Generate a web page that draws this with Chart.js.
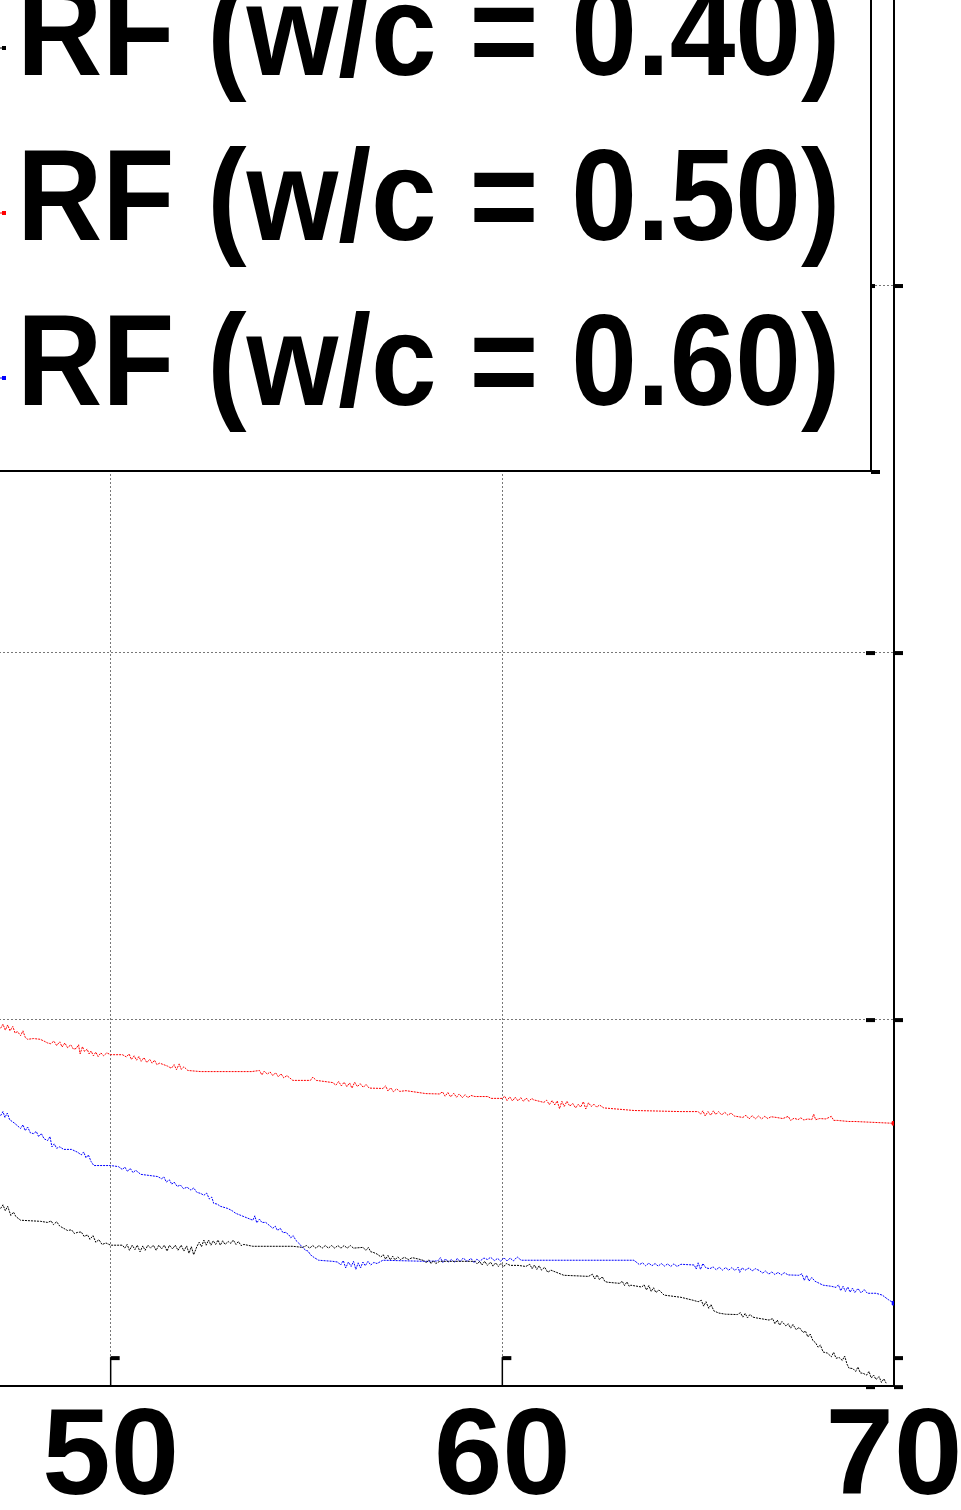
<!DOCTYPE html>
<html>
<head>
<meta charset="utf-8">
<script src="https://cdn.jsdelivr.net/npm/chart.js@4.4.1/dist/chart.umd.min.js"></script>
<style>
    html, body { margin: 0; padding: 0; background: #fff; overflow: hidden; }
    #wrap { position: relative; width: 961px; height: 1510px; overflow: hidden; }
    #chart { position: absolute; left: -387px; top: -92px; }
</style>
</head>
<body>
<div id="wrap"><canvas id="chart" width="1387" height="1629"></canvas></div>
<script>
// series labels
var seriesLabels = ['RF (w/c = 0.40)', 'RF (w/c = 0.50)', 'RF (w/c = 0.60)'];
var seriesColors = ['#000000', '#ff0000', '#0000ff'];

// w/c = 0.40 (black), [x, RF]
var blackSeries = [
    [47.19, .484], [47.25, .494], [47.31, .478], [47.37, .490], [47.45, .465], [47.52, .474], [47.58, .462], [47.70, .452],
    [48.21, .449], [48.39, .446], [48.48, .450], [48.54, .440], [48.62, .448], [48.70, .436], [48.80, .430], [48.90, .424],
    [49.00, .426], [49.07, .416], [49.16, .419], [49.25, .420], [49.32, .408], [49.41, .412], [49.47, .400], [49.55, .410],
    [49.62, .392], [49.70, .399], [49.78, .386], [49.88, .390], [50.00, .384],
    [50.30, .384], [50.36, .376], [50.42, .386], [50.48, .370], [50.55, .384], [50.62, .372], [50.68, .384], [50.75, .366],
    [50.82, .382], [50.88, .370], [50.95, .384], [51.02, .376], [51.09, .384], [51.16, .370], [51.23, .384], [51.30, .374],
    [51.37, .384], [51.44, .368], [51.50, .384], [51.58, .374], [51.65, .384], [51.72, .370], [51.80, .384], [51.87, .368],
    [51.94, .382], [52.00, .362], [52.06, .380], [52.12, .358], [52.20, .380],
    [52.26, .392], [52.32, .380], [52.38, .398], [52.44, .384], [52.50, .398], [52.56, .384], [52.62, .396], [52.68, .386],
    [52.74, .398], [52.80, .384], [52.86, .396], [52.92, .386], [53.00, .394], [53.07, .389], [53.13, .398], [53.20, .386],
    [53.26, .394], [53.33, .383], [53.40, .386], [53.63, .381],
    [54.65, .381], [54.90, .378], [55.00, .383], [55.08, .376], [55.16, .383], [55.24, .376], [55.32, .383], [55.40, .376],
    [55.48, .383], [55.56, .376], [55.64, .383], [55.72, .376], [55.80, .383], [55.88, .376], [55.96, .383], [56.04, .376],
    [56.12, .383], [56.20, .376], [56.44, .378],
    [56.52, .370], [56.58, .378], [56.64, .366], [56.69, .365], [56.80, .360], [56.90, .352], [56.96, .358], [57.02, .346],
    [57.08, .356], [57.14, .344], [57.20, .354], [57.26, .344], [57.33, .352], [57.40, .345], [57.50, .351], [57.60, .345],
    [57.70, .350], [57.87, .346],
    [58.00, .342], [58.06, .336], [58.12, .344], [58.18, .334], [58.24, .342], [58.30, .334], [58.40, .340], [58.56, .340],
    [59.30, .340], [59.36, .333], [59.42, .340], [59.48, .330], [59.55, .340], [59.62, .329], [59.70, .338], [59.76, .327],
    [59.83, .336], [59.90, .326], [59.96, .334], [60.04, .326], [60.10, .334], [60.20, .329], [60.40, .329],
    [60.60, .326], [60.70, .332], [60.76, .320], [60.82, .330], [60.88, .318], [60.94, .328], [61.00, .316], [61.08, .324],
    [61.16, .310], [61.24, .316], [61.57, .302],
    [62.20, .299], [62.30, .305], [62.36, .292], [62.42, .303], [62.48, .290], [62.55, .298], [62.62, .285], [62.69, .283],
    [63.00, .280], [63.06, .286], [63.12, .274], [63.18, .284], [63.24, .272], [63.28, .275], [63.56, .270], [63.62, .276],
    [63.68, .262], [63.74, .274], [63.80, .258], [63.86, .268], [63.92, .255], [64.00, .262], [64.13, .248], [64.56, .242],
    [64.87, .234], [65.00, .230], [65.08, .234], [65.14, .218], [65.20, .230], [65.27, .212], [65.33, .222], [65.40, .205],
    [65.53, .199], [65.70, .196], [66.00, .195], [66.08, .200], [66.14, .188], [66.20, .198], [66.26, .186], [66.32, .195],
    [66.40, .188], [66.48, .186], [66.81, .180], [66.90, .184], [66.96, .170], [67.02, .180], [67.08, .166], [67.14, .176],
    [67.24, .164], [67.30, .170], [67.36, .158], [67.42, .168], [67.50, .154], [67.58, .160], [67.68, .146], [67.74, .150],
    [67.80, .134], [67.86, .142], [67.93, .124], [68.00, .118], [68.06, .106], [68.12, .112], [68.19, .093], [68.30, .090],
    [68.40, .080], [68.46, .092], [68.52, .076], [68.60, .078], [68.68, .070], [68.74, .082], [68.80, .060], [68.85, .049],
    [68.95, .048], [69.02, .040], [69.08, .052], [69.14, .036], [69.21, .035], [69.30, .030], [69.36, .040], [69.42, .022],
    [69.48, .030], [69.54, .018], [69.62, .026], [69.68, .010], [69.74, .020], [69.80, .008]
];

// w/c = 0.50 (red)
var redSeries = [
    [47.19, .975], [47.25, .986], [47.31, .970], [47.37, .984], [47.43, .968], [47.50, .980], [47.56, .962], [47.62, .966],
    [47.70, .955], [47.76, .968], [47.82, .950], [47.88, .945], [48.03, .947], [48.20, .945], [48.30, .940],
    [48.39, .935], [48.47, .933], [48.55, .940], [48.62, .928], [48.70, .938], [48.76, .924], [48.83, .935], [48.90, .922],
    [48.98, .930], [49.05, .918], [49.12, .920], [49.18, .930], [49.22, .905], [49.28, .925], [49.33, .912], [49.40, .918],
    [49.45, .905], [49.50, .913], [49.56, .900], [49.62, .910], [49.68, .898], [49.75, .908], [49.82, .900], [49.90, .908],
    [50.00, .903], [50.30, .903], [50.40, .897], [50.47, .905], [50.53, .890], [50.60, .900], [50.66, .888], [50.72, .898],
    [50.78, .885], [50.85, .895], [50.92, .882], [51.00, .890], [51.06, .880], [51.12, .888], [51.18, .876], [51.25, .880],
    [51.45, .872], [51.55, .866], [51.62, .876], [51.68, .862], [51.75, .878], [51.80, .863], [51.87, .870], [51.97, .860],
    [52.30, .857], [53.07, .857], [53.60, .857], [53.80, .860], [53.86, .848], [53.92, .858], [54.00, .850], [54.07, .856],
    [54.14, .846], [54.21, .854], [54.28, .843], [54.35, .851], [54.42, .840], [54.50, .846], [54.65, .833],
    [55.10, .833], [55.16, .842], [55.25, .833], [55.67, .827],
    [55.75, .820], [55.82, .830], [55.89, .818], [55.96, .828], [56.03, .816], [56.10, .826], [56.16, .812], [56.23, .828],
    [56.30, .816], [56.37, .824], [56.45, .814], [56.52, .822], [56.60, .812],
    [56.95, .811], [57.02, .818], [57.08, .804], [57.15, .813], [57.22, .802], [57.30, .810], [57.38, .803], [57.54, .805],
    [58.05, .797], [58.40, .796], [58.47, .802], [58.54, .790], [58.61, .800], [58.68, .788], [58.76, .798], [58.83, .787],
    [58.90, .796], [58.98, .786], [59.05, .794], [59.12, .786], [59.20, .792], [59.30, .789], [59.63, .789],
    [59.71, .784], [60.00, .784], [60.06, .790], [60.12, .778], [60.19, .788], [60.26, .777], [60.33, .787], [60.40, .777],
    [60.47, .786], [60.54, .776], [60.61, .785], [60.68, .776], [60.75, .784], [60.80, .780],
    [61.06, .773], [61.13, .779], [61.20, .767], [61.27, .778], [61.34, .766], [61.40, .777], [61.46, .756], [61.52, .776],
    [61.58, .762], [61.65, .776], [61.72, .763], [61.80, .770], [61.87, .758], [61.94, .768], [62.00, .760], [62.07, .775],
    [62.13, .755], [62.20, .772], [62.27, .762], [62.34, .768], [62.41, .760], [62.48, .766], [62.59, .758],
    [63.36, .751], [64.56, .748], [65.00, .748], [65.06, .741], [65.12, .750], [65.18, .736], [65.25, .748], [65.32, .738],
    [65.39, .750], [65.45, .740], [65.52, .748], [65.60, .739], [65.68, .746], [65.76, .738], [65.84, .744], [65.92, .736],
    [66.14, .732], [66.22, .738], [66.30, .728], [66.38, .737], [66.46, .728], [66.54, .736], [66.62, .728], [66.70, .735],
    [66.78, .729], [66.86, .734], [67.00, .732], [67.16, .729],
    [67.30, .735], [67.36, .724], [67.45, .730], [67.55, .726], [67.62, .731], [67.70, .725], [67.80, .728], [67.90, .726],
    [67.95, .741], [68.00, .726], [68.10, .729], [68.26, .728], [68.40, .735], [68.46, .724], [68.55, .724], [68.85, .721],
    [69.00, .721], [70.00, .716]
];

// w/c = 0.60 (blue)
var blueSeries = [
    [47.19, .737], [47.25, .748], [47.30, .732], [47.36, .744], [47.42, .726], [47.55, .716], [47.70, .702], [47.76, .712],
    [47.82, .696], [47.88, .706], [47.95, .690], [48.03, .688], [48.10, .694], [48.16, .680], [48.23, .688], [48.30, .674],
    [48.39, .669], [48.45, .680], [48.50, .652], [48.56, .660], [48.62, .648], [48.70, .652], [48.80, .645], [49.00, .645],
    [49.16, .637], [49.25, .630], [49.31, .638], [49.37, .622], [49.43, .630], [49.50, .612], [49.57, .601], [50.00, .601],
    [50.20, .598], [50.30, .590], [50.36, .597], [50.43, .585], [50.50, .593], [50.57, .582], [50.64, .588], [50.77, .577],
    [51.20, .571], [51.30, .565], [51.36, .570], [51.42, .556], [51.50, .562], [51.56, .550], [51.62, .556], [51.70, .544],
    [51.78, .548], [51.86, .538], [51.95, .542], [52.05, .534], [52.12, .540], [52.20, .528], [52.30, .525], [52.38, .520],
    [52.45, .526], [52.52, .510], [52.58, .515], [52.63, .498], [52.72, .496], [52.80, .490], [52.99, .484], [53.10, .478],
    [53.19, .471], [53.63, .452], [53.68, .464], [53.73, .445], [53.80, .455], [53.86, .446], [53.96, .446], [54.14, .430],
    [54.20, .436], [54.26, .424], [54.33, .430], [54.40, .418], [54.47, .419], [54.55, .412], [54.60, .404], [54.66, .410],
    [54.73, .397], [54.80, .390], [54.88, .380], [54.98, .370], [55.04, .368], [55.10, .358], [55.20, .350], [55.31, .343],
    [55.67, .340], [55.80, .338], [55.87, .330], [55.94, .342], [56.00, .322], [56.07, .338], [56.14, .326], [56.20, .340],
    [56.26, .318], [56.32, .336], [56.38, .322], [56.44, .338], [56.50, .328], [56.57, .340], [56.64, .330], [56.72, .337],
    [56.80, .334], [56.95, .343], [58.05, .340], [58.35, .341], [58.42, .350], [58.48, .337], [58.55, .347], [58.62, .338],
    [58.70, .345], [58.78, .337], [58.85, .348], [58.92, .339], [59.00, .349], [59.10, .340], [59.20, .348], [59.28, .336],
    [59.35, .346], [59.42, .340], [59.53, .349], [59.62, .345], [59.70, .351], [59.80, .342], [59.88, .348], [59.96, .340],
    [60.04, .350], [60.12, .341], [60.20, .349], [60.28, .341], [60.38, .352], [60.48, .343], [61.24, .343], [63.36, .343],
    [63.50, .331], [63.58, .336], [63.66, .328], [63.74, .335], [63.82, .328], [63.90, .334], [63.98, .327], [64.06, .334],
    [64.14, .327], [64.22, .333], [64.30, .326], [64.38, .333], [64.46, .326], [64.56, .332], [64.90, .330], [64.95, .319],
    [65.00, .336], [65.06, .318], [65.12, .334], [65.20, .322], [65.30, .320], [65.38, .325], [65.46, .317], [65.54, .324],
    [65.62, .316], [65.70, .323], [65.78, .316], [65.86, .323], [65.94, .315], [66.02, .324], [66.06, .310], [66.12, .322],
    [66.20, .316], [66.30, .322], [66.38, .314], [66.46, .320], [66.56, .315], [66.65, .308], [66.72, .314], [66.80, .305],
    [66.88, .311], [66.96, .304], [67.04, .310], [67.12, .303], [67.20, .309], [67.30, .303], [67.57, .302], [67.65, .306],
    [67.71, .288], [67.77, .302], [67.83, .286], [67.90, .296], [67.98, .286], [68.19, .275], [68.40, .272], [68.52, .269],
    [68.58, .276], [68.64, .260], [68.70, .272], [68.76, .258], [68.82, .270], [68.88, .256], [68.94, .267], [69.00, .255],
    [69.08, .266], [69.16, .254], [69.24, .263], [69.32, .253], [69.54, .253], [69.70, .248], [69.85, .236], [70.00, .226]
];

var xMin = 40, xMax = 70, xStep = 10;
var yMin = 0, yMax = 4, yStep = 1;

var fontFamily = "'Liberation Sans', Arial, sans-serif";

function toPoints(pairs) {
    return pairs.map(function(p) { return { x: p[0], y: p[1] }; });
}

// small square only on the last sample of a series
function endMarker(ctx) {
    return ctx.dataIndex === ctx.dataset.data.length - 1 ? 2.5 : 0;
}

// inward tick marks on the bottom and right axis
var tickMarks = {
    id: 'tickMarks',
    afterDatasetsDraw: function(chart) {
        var ctx = chart.ctx;
        var area = chart.chartArea;
        var xs = chart.scales.x, ys = chart.scales.y;
        ctx.save();
        ctx.fillStyle = '#000';
        ctx.strokeStyle = '#000';
        ctx.lineWidth = 1.5;
        xs.ticks.forEach(function(t) {
            var px = xs.getPixelForValue(t.value);
            ctx.beginPath();
            ctx.moveTo(px, area.bottom - 29);
            ctx.lineTo(px, area.bottom);
            ctx.stroke();
            ctx.fillRect(px, area.bottom - 30, 9, 4);
        });
        ys.ticks.forEach(function(t) {
            var py = ys.getPixelForValue(t.value);
            ctx.fillRect(area.right - 28, py - 1, 9, 4);
            ctx.fillRect(area.right, py - 1, 9, 4);
        });
        ctx.restore();
    }
};

// boxed legend in the upper left, drawn over the grid
var legendBox = {
    id: 'legendBox',
    afterDraw: function(chart) {
        var ctx = chart.ctx;
        var area = chart.chartArea;
        var right = area.right - 23;
        var bottom = 563;
        ctx.save();
        ctx.fillStyle = '#fff';
        ctx.fillRect(0, 0, right, bottom);
        ctx.strokeStyle = '#000';
        ctx.lineWidth = 2;
        ctx.beginPath();
        ctx.moveTo(0, bottom);
        ctx.lineTo(right, bottom);
        ctx.lineTo(right, 0);
        ctx.stroke();
        ctx.fillStyle = '#000';
        ctx.fillRect(right, bottom - 1, 9, 4);

        ctx.font = 'bold 130px ' + fontFamily;
        ctx.textBaseline = 'alphabetic';
        ctx.textAlign = 'left';
        chart.data.datasets.forEach(function(ds, i) {
            var base = 167 + i * 165;
            var mid = base - 27;
            ctx.strokeStyle = ds.borderColor;
            ctx.lineWidth = 1;
            ctx.beginPath();
            ctx.moveTo(250, mid);
            ctx.lineTo(392, mid);
            ctx.stroke();
            ctx.fillStyle = ds.borderColor;
            ctx.fillRect(389, mid - 2, 4, 4);
            // condensed face
            ctx.save();
            ctx.translate(404, base);
            ctx.scale(0.908, 1);
            ctx.fillStyle = '#000';
            ctx.fillText(ds.label, 0, 0);
            ctx.restore();
        });
        ctx.restore();
    }
};

var ctxChart = document.getElementById('chart').getContext('2d');
var rfChart = new Chart(ctxChart, {
    type: 'line',
    data: {
        datasets: [{
            label: seriesLabels[0],
            data: toPoints(blackSeries),
            borderColor: seriesColors[0],
            backgroundColor: seriesColors[0],
            borderWidth: 1,
            borderDash: [2, 1],
            pointRadius: 0
        }, {
            label: seriesLabels[1],
            data: toPoints(redSeries),
            borderColor: seriesColors[1],
            backgroundColor: seriesColors[1],
            borderWidth: 1,
            borderDash: [2, 1],
            pointStyle: 'rect',
            pointRadius: endMarker
        }, {
            label: seriesLabels[2],
            data: toPoints(blueSeries),
            borderColor: seriesColors[2],
            backgroundColor: seriesColors[2],
            borderWidth: 1,
            borderDash: [2, 1],
            pointStyle: 'rect',
            pointRadius: endMarker
        }]
    },
    plugins: [tickMarks, legendBox],
    options: {
        responsive: false,
        animation: false,
        layout: {
            padding: { left: 106, right: 106, top: 10, bottom: 2 }
        },
        plugins: {
            legend: { display: false },
            tooltip: { enabled: false }
        },
        scales: {
            x: {
                type: 'linear',
                min: xMin,
                max: xMax,
                ticks: {
                    stepSize: xStep,
                    maxRotation: 0,
                    autoSkip: false,
                    padding: 32,
                    color: '#000',
                    font: { family: fontFamily, size: 123, weight: 'bold', lineHeight: 0.69 }
                },
                grid: { color: '#777', lineWidth: 1, drawTicks: false },
                border: { display: true, color: '#000', width: 2, dash: [2, 2] }
            },
            y: {
                position: 'right',
                min: yMin,
                max: yMax,
                ticks: { stepSize: yStep, display: false },
                grid: { color: '#777', lineWidth: 1, drawTicks: false },
                border: { display: true, color: '#000', width: 2, dash: [2, 2] }
            }
        }
    }
});
</script>
</body>
</html>
